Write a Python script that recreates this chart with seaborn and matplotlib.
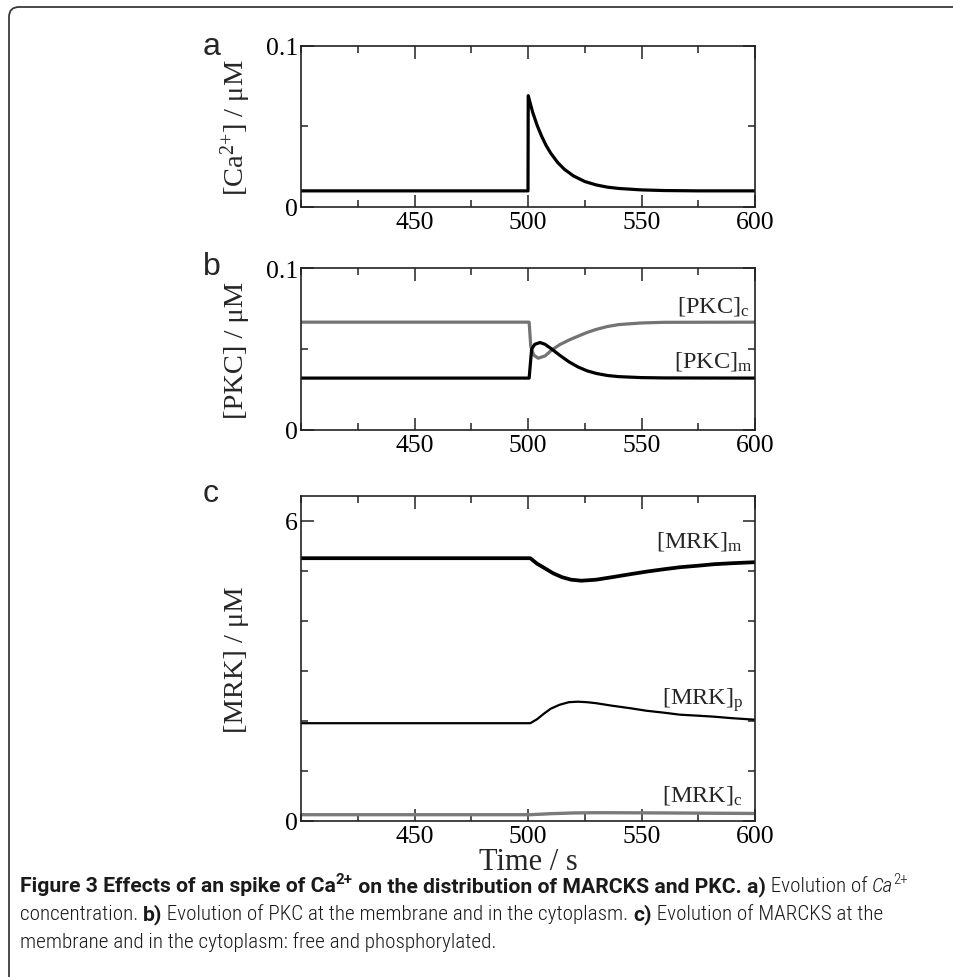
import os
import numpy as np
import pandas as pd
import seaborn as sns
import matplotlib
matplotlib.use("Agg")
import matplotlib.pyplot as plt
from matplotlib.ticker import FixedLocator, FixedFormatter, MultipleLocator
from matplotlib.patches import FancyBboxPatch
from matplotlib import font_manager as fm
from matplotlib.font_manager import FontProperties

# ---------------- data ----------------
time_ca = [400, 500, 500.1, 502, 504, 506, 508, 510, 513, 516, 520, 525, 530, 535, 540, 550, 560, 575, 600]
ca = [0.0100, 0.0100, 0.0690, 0.0590, 0.0507, 0.0439, 0.0381, 0.0334, 0.0277, 0.0234, 0.0193,
      0.0158, 0.0137, 0.0123, 0.0115, 0.0106, 0.0102, 0.0100, 0.0100]

time_pkc_c = [400, 500.5, 501.2, 502.5, 504.5, 507.5, 510.5, 514, 518, 522, 526, 530, 535, 540, 550, 560, 600]
pkc_c = [0.0667, 0.0667, 0.0520, 0.0463, 0.0444, 0.0458, 0.0495, 0.0528, 0.0556, 0.0580, 0.0603,
         0.0622, 0.0640, 0.0652, 0.0662, 0.0666, 0.0667]

time_pkc_m = [400, 500.5, 501.6, 503, 505.3, 507.5, 510.5, 514, 518, 522, 526, 530, 535, 540, 550, 560, 600]
pkc_m = [0.0321, 0.0321, 0.0500, 0.0530, 0.0541, 0.0530, 0.0500, 0.0462, 0.0422, 0.0390, 0.0366,
         0.0350, 0.0337, 0.0330, 0.0324, 0.0322, 0.0321]

time_mrk_m = [400, 501, 504, 507, 511, 515, 519, 523.5, 530, 537, 545, 552, 560, 567, 575, 582, 590, 600]
mrk_m = [5.25, 5.25, 5.14, 5.06, 4.95, 4.87, 4.82, 4.80, 4.82, 4.87, 4.93, 4.98, 5.03, 5.07, 5.10,
         5.13, 5.15, 5.17]

time_mrk_p = [400, 501, 504, 507, 510, 514, 518, 522, 526, 530, 537, 545, 552, 560, 567, 575, 582, 590, 600]
mrk_p = [1.95, 1.95, 2.03, 2.14, 2.24, 2.32, 2.37, 2.38, 2.37, 2.35, 2.30, 2.25, 2.20, 2.16, 2.12,
         2.10, 2.08, 2.05, 2.02]

time_mrk_c = [400, 501, 510, 520, 530, 545, 560, 580, 600]
mrk_c = [0.12, 0.12, 0.14, 0.155, 0.16, 0.158, 0.155, 0.15, 0.145]

x_major_ticks = [450, 500, 550, 600]
x_tick_labels = ["450", "500", "550", "600"]
y_ticks_small = [0, 0.1]
y_tick_labels_small = ["0", "0.1"]
y_ticks_mrk = [0, 6]
y_tick_labels_mrk = ["0", "6"]

panel_letters = ["a", "b", "c"]
y_labels = ["[Ca$^{2{+}}$] / \u03bcM", "[PKC] / \u03bcM", "[MRK] / \u03bcM"]
x_label = "Time / s"

caption_lines = [
    [("Figure 3 Effects of an spike of Ca", "bold"), ("2+", "bold_sup"),
     (" on the distribution of MARCKS and PKC. a)", "bold"), (" Evolution of ", "regular"),
     ("Ca", "italic"), ("2+", "regular_sup")],
    [("concentration. ", "regular"), ("b)", "bold"),
     (" Evolution of PKC at the membrane and in the cytoplasm. ", "regular"), ("c)", "bold"),
     (" Evolution of MARCKS at the", "regular")],
    [("membrane and in the cytoplasm: free and phosphorylated.", "regular")],
]

# ---------------- style ----------------
sns.set_theme(style="ticks")
plt.rcParams["font.family"] = ["Liberation Serif", "DejaVu Serif"]
plt.rcParams["mathtext.default"] = "regular"
plt.rcParams["axes.linewidth"] = 1.2
plt.rcParams["axes.edgecolor"] = "#222222"

W, H = 954, 978
fig = plt.figure(figsize=(W / 100, H / 100), dpi=100)
fig.patch.set_facecolor("white")


def ax_rect(left, top, right, bottom):
    return [left / W, 1 - bottom / H, (right - left) / W, (bottom - top) / H]


ax_a = fig.add_axes(ax_rect(301, 46.7, 755, 208))
ax_b = fig.add_axes(ax_rect(301, 269.3, 755, 431))
ax_c = fig.add_axes(ax_rect(301, 496.7, 755, 821.7))
axes = [ax_a, ax_b, ax_c]

# ---------------- curves ----------------
sns.lineplot(x=time_ca, y=ca, ax=ax_a, color="black", lw=2.3, estimator=None, sort=False)

sns.lineplot(x=time_pkc_c, y=pkc_c, ax=ax_b, color="#737373", lw=2.3, estimator=None, sort=False)
sns.lineplot(x=time_pkc_m, y=pkc_m, ax=ax_b, color="black", lw=2.3, estimator=None, sort=False)

sns.lineplot(x=time_mrk_c, y=mrk_c, ax=ax_c, color="#7a7a7a", lw=2.4, estimator=None, sort=False)
sns.lineplot(x=time_mrk_p, y=mrk_p, ax=ax_c, color="black", lw=1.6, estimator=None, sort=False)
sns.lineplot(x=time_mrk_m, y=mrk_m, ax=ax_c, color="black", lw=2.7, estimator=None, sort=False)

# ---------------- axes formatting ----------------
for ax in axes:
    ax.set_xlim(400, 600)
    ax.xaxis.set_major_locator(FixedLocator(x_major_ticks))
    ax.xaxis.set_major_formatter(FixedFormatter(x_tick_labels))
    ax.xaxis.set_minor_locator(MultipleLocator(25))
    ax.tick_params(which="both", direction="in", top=True, right=True, colors="#222222",
                   labelcolor="black", labelsize=18.5)
    ax.tick_params(which="major", length=9, width=1.1)
    ax.tick_params(which="minor", length=5, width=1.1)
    ax.tick_params(axis="x", pad=3)
    ax.tick_params(axis="y", pad=2)
    ax.set_xlabel("")
    ax.set_ylabel("")
    ax.set_facecolor("white")

for ax in (ax_a, ax_b):
    ax.set_ylim(0, 0.1)
    ax.yaxis.set_major_locator(FixedLocator(y_ticks_small))
    ax.yaxis.set_major_formatter(FixedFormatter(y_tick_labels_small))
    ax.yaxis.set_minor_locator(FixedLocator([0.05]))

ax_c.set_ylim(0, 6.5)
ax_c.yaxis.set_major_locator(FixedLocator(y_ticks_mrk))
ax_c.yaxis.set_major_formatter(FixedFormatter(y_tick_labels_mrk))
ax_c.yaxis.set_minor_locator(FixedLocator([1, 2, 3, 4, 5]))

for ax, lab in zip(axes, y_labels):
    ax.set_ylabel(lab, fontsize=20.5)
    ax.yaxis.set_label_coords(-0.143, 0.5)
    ax.yaxis.label.set_verticalalignment("center")
    ax.yaxis.label.set_rotation_mode("anchor")

ax_c.set_xlabel(x_label, fontsize=22)
ax_c.xaxis.set_label_coords(0.5, (821.7 - 870) / 325.0)
ax_c.xaxis.label.set_verticalalignment("baseline")

# curve labels
lab_kw = dict(fontsize=17.5, ha="right", va="baseline")
ax_b.text(597.5, 0.0735, "[PKC]$_{c}$", **lab_kw)
ax_b.text(599.0, 0.0390, "[PKC]$_{m}$", **lab_kw)
ax_c.text(594.5, 5.49, "[MRK]$_{m}$", **lab_kw)
ax_c.text(595.0, 2.33, "[MRK]$_{p}$", **lab_kw)
ax_c.text(594.5, 0.40, "[MRK]$_{c}$", **lab_kw)

# panel letters
for letter, base in zip(panel_letters, [55, 275, 502]):
    fig.text(203 / W, 1 - base / H, letter, family=["Liberation Sans", "DejaVu Sans"],
             fontsize=23, ha="left", va="baseline")

# frame (rounded top-left corner; right/bottom sides lie outside the page)
frame = FancyBboxPatch((0.09, -0.6), 10.6, 9.70 + 0.6, boxstyle="round,pad=0,rounding_size=0.1",
                       transform=fig.dpi_scale_trans, fill=False, edgecolor="#3a3a3a", lw=1.3,
                       clip_on=False)
fig.add_artist(frame)


# ---------------- caption ----------------
def collect_font_files():
    files = {}
    for f in fm.fontManager.ttflist:
        files.setdefault(os.path.basename(f.fname).lower(), f.fname)
    for d in ["/usr/share/fonts", "/usr/local/share/fonts", os.path.expanduser("~/.fonts")]:
        if os.path.isdir(d):
            for root, _, names in os.walk(d):
                for n in names:
                    files.setdefault(n.lower(), os.path.join(root, n))
    return files


font_files = collect_font_files()


def first_font(names, fallback):
    for n in names:
        if n in font_files:
            return FontProperties(fname=font_files[n])
    return fallback


reg_fp = first_font(["robotocondensed-light.ttf", "liberationsansnarrow-regular.ttf",
                     "notosans-condensedlight.ttf", "notosans-condensed.ttf",
                     "robotocondensed-regular.ttf", "dejavusanscondensed.ttf"],
                    FontProperties(family="Noto Sans"))
ital_fp = first_font(["robotocondensed-lightitalic.ttf", "liberationsansnarrow-italic.ttf",
                      "notosans-condensedlightitalic.ttf", "notosans-condenseditalic.ttf",
                      "robotocondensed-italic.ttf", "dejavusanscondensed-oblique.ttf"],
                     FontProperties(family="Noto Sans", style="italic"))
bold_options = [font_files[n] for n in
                ["robotocondensed-bold.ttf", "liberationsansnarrow-bold.ttf", "notosans-condensedbold.ttf",
                 "notosans-semicondensedbold.ttf", "roboto-bold.ttf", "notosans-bold.ttf",
                 "liberationsans-bold.ttf", "opensans-bold.ttf"]
                if n in font_files]
bold_options = [FontProperties(fname=p) for p in bold_options] or [FontProperties(family="Noto Sans", weight="bold")]

cap_fonts = {"regular": reg_fp, "italic": ital_fp, "bold": bold_options[0]}

renderer = fig.canvas.get_renderer()


def measure(s, fp):
    w1 = renderer.get_text_width_height_descent("X" + s + "X", fp, ismath=False)[0]
    w0 = renderer.get_text_width_height_descent("XX", fp, ismath=False)[0]
    return w1 - w0


def piece_fp(kind, size):
    sup = kind.endswith("_sup")
    fp = cap_fonts[kind.replace("_sup", "")].copy()
    fp.set_size(size * 0.72 if sup else size)
    return fp, sup


def line_width(pieces, size):
    return sum(measure(t, piece_fp(k, size)[0]) for t, k in pieces)


# size from the all-regular last line, bold face chosen to make line 1 fit
base_size = 16.0
cap_size = base_size * 475.0 / line_width(caption_lines[2], base_size)
cap_size = min(19.0, cap_size)
best = None
for bfp in bold_options:
    cap_fonts["bold"] = bfp
    w1 = line_width(caption_lines[0], cap_size)
    w2 = line_width(caption_lines[1], cap_size)
    err = abs(w1 - 885.0) + abs(w2 - 870.0)
    if w1 <= 925 and (best is None or err < best[0]):
        best = (err, bfp)
if best is not None:
    cap_fonts["bold"] = best[1]
else:
    cap_fonts["bold"] = bold_options[0]

for pieces, base in zip(caption_lines, [892, 920, 948]):
    x = 20.0
    for t, k in pieces:
        fp, sup = piece_fp(k, cap_size)
        y = base - (cap_size * 0.40 * 100 / 72 if sup else 0)
        fig.text(x / W, 1 - y / H, t, fontproperties=fp, ha="left", va="baseline", color="#1a1a1a")
        x += measure(t, fp)

fig.savefig("out.png", dpi=100)
